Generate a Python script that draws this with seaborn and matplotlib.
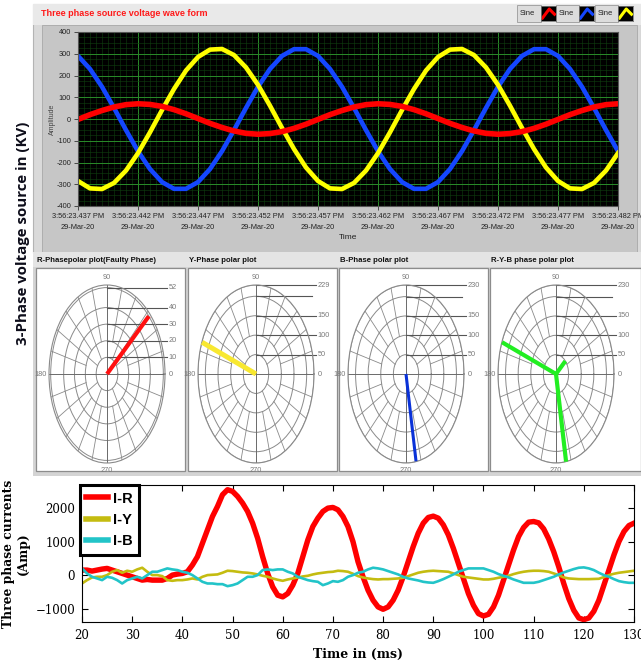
import numpy as np
import pandas as pd
import matplotlib
matplotlib.use('Agg')
import matplotlib.pyplot as plt
from matplotlib.patches import Rectangle
from matplotlib.lines import Line2D
from matplotlib.ticker import MultipleLocator
from matplotlib import font_manager
import seaborn as sns

# --- Figure geometry (pixels of the reference) ---
W, H = 641, 666

# --- Top chart: three phase source voltage, one sample per ms from 3:56:23.437 PM ---
T_OFFSET_MS = list(range(0, 46))
V_R = [-2, 20, 39, 55, 66, 70, 67, 58, 43, 24, 2, -20, -39, -55, -66, -70, -67, -58, -43, -24,
       -2, 20, 39, 55, 66, 70, 67, 58, 43, 24, 2, -20, -39, -55, -66, -70, -67, -58, -43, -24,
       -2, 20, 39, 55, 66, 70]
V_B = [290, 230, 148, 51, -51, -148, -230, -290, -321, -321, -290, -230, -148, -51, 51, 148, 230, 290, 321, 321,
       290, 230, 148, 51, -51, -148, -230, -290, -321, -321, -290, -230, -148, -51, 51, 148, 230, 290, 321, 321,
       290, 230, 148, 51, -51, -148]
V_Y = [-285, -319, -322, -294, -237, -157, -61, 41, 138, 223, 285, 319, 322, 294, 237, 157, 61, -41, -138, -223,
       -285, -319, -322, -294, -237, -157, -61, 41, 138, 223, 285, 319, 322, 294, 237, 157, 61, -41, -138, -223,
       -285, -319, -322, -294, -237, -157]
TOP_TICKS_MS = [0, 5, 10, 15, 20, 25, 30, 35, 40, 45]
TOP_TICK_LABELS = ['3:56:23.437 PM\n29-Mar-20', '3:56:23.442 PM\n29-Mar-20', '3:56:23.447 PM\n29-Mar-20',
                   '3:56:23.452 PM\n29-Mar-20', '3:56:23.457 PM\n29-Mar-20', '3:56:23.462 PM\n29-Mar-20',
                   '3:56:23.467 PM\n29-Mar-20', '3:56:23.472 PM\n29-Mar-20', '3:56:23.477 PM\n29-Mar-20',
                   '3:56:23.482 PM\n29-Mar-20']

# --- Polar plots: phasor magnitude and angle (deg) for R, Y, B ---
PHASES = ['R', 'Y', 'B']
PHASOR_MAG = [52, 228, 229]
PHASOR_ANG = [42, 159, 280]
RYB_MAG = [50, 229, 230]
POLAR_TITLES = ['R-Phasepolar plot(Faulty Phase)', 'Y-Phase polar plot', 'B-Phase polar plot',
                'R-Y-B phase polar plot']
RINGS_R = [10, 20, 30, 40, 52]
RING_LABELS_R = ['10', '20', '30', '40', '52']
RINGS_Y = [50, 100, 150, 200, 229]
RING_LABELS_Y = ['50', '100', '150', '', '229']
RINGS_B = [50, 100, 150, 200, 230]
RING_LABELS_B = ['50', '100', '150', '', '230']

# --- Bottom chart: three phase currents (Amp), one sample per ms ---
TIME_MS = list(range(20, 131))
I_R = [150, 150, 120, 150, 180, 200, 150, 100, 50, 0,
       -50, -100, -150, -130, -150, -150, -150, -100, 0, 30,
       50, 100, 300, 550, 950, 1350, 1750, 2050, 2400, 2550,
       2500, 2350, 2150, 1900, 1550, 1100, 550, 50, -350, -600,
       -650, -550, -300, 50, 550, 1050, 1450, 1700, 1900, 2000,
       2020, 1950, 1750, 1450, 1000, 400, -50, -450, -750, -950,
       -1020, -950, -750, -450, -50, 400, 850, 1250, 1550, 1720,
       1760, 1700, 1500, 1200, 800, 350, -100, -550, -900, -1150,
       -1220, -1170, -950, -600, -150, 300, 750, 1150, 1420, 1580,
       1600, 1560, 1380, 1080, 700, 250, -250, -700, -1050, -1280,
       -1330, -1280, -1080, -750, -300, 150, 600, 1000, 1300, 1480,
       1550]
I_Y = [-250, -150, -70, -50, -50, 0, 100, 150, 70, 130,
       100, 170, 220, 100, 0, 0, -30, -150, -170, -150,
       -150, -130, -100, -130, -50, 0, 10, 20, 70, 130,
       120, 100, 80, 70, 50, 20, -20, -50, -100, -140,
       -170, -130, -100, -70, -40, -20, 20, 50, 70, 90,
       100, 130, 120, 100, 40, -30, -70, -100, -120, -130,
       -120, -120, -110, -100, -80, -30, 20, 70, 100, 120,
       130, 120, 110, 100, 50, 0, -50, -70, -90, -110,
       -130, -130, -110, -80, -50, -20, 30, 70, 100, 120,
       130, 130, 120, 100, 50, 0, -70, -100, -110, -120,
       -120, -120, -115, -110, -60, 0, 40, 70, 90, 110,
       130]
I_B = [200, 50, -50, -100, -150, -50, -80, -150, -250, -150,
       -100, -50, -100, 0, 100, 100, 150, 200, 170, 150,
       100, 70, 0, -100, -200, -250, -250, -270, -270, -330,
       -300, -250, -150, -50, -50, 0, 150, 170, 150, 170,
       170, 100, 50, -50, -100, -150, -180, -200, -300, -250,
       -180, -200, -150, -50, 0, 70, 100, 170, 220, 200,
       170, 120, 70, 20, -50, -100, -130, -160, -200, -220,
       -230, -180, -120, -50, 20, 100, 150, 200, 200, 200,
       200, 150, 100, 30, -20, -70, -130, -180, -230, -230,
       -230, -200, -150, -100, -50, 20, 80, 130, 180, 220,
       230, 200, 150, 70, 0, -50, -120, -180, -210, -230,
       -230]

# --- Fonts ---
available = {f.name for f in font_manager.fontManager.ttflist}
NARROW = 'Liberation Sans Narrow' if 'Liberation Sans Narrow' in available else 'Liberation Sans'
SERIF = 'DejaVu Serif'


def rect(x0, y0, x1, y1):
    """Pixel box (top-left origin) -> figure fraction [l, b, w, h]."""
    return [x0 / W, 1 - y1 / H, (x1 - x0) / W, (y1 - y0) / H]


def panel(fig, x0, y0, x1, y1, fc, ec='none', lw=0.8, z=-2):
    l, b, w, h = rect(x0, y0, x1, y1)
    fig.patches.append(Rectangle((l, b), w, h, transform=fig.transFigure,
                                 facecolor=fc, edgecolor=ec, lw=lw, zorder=z))


fig = plt.figure(figsize=(W / 100, H / 100), dpi=100)
fig.patch.set_facecolor('white')

# big left label
fig.text(23 / W, 1 - 233 / H, '3-Phase voltage source in (KV)', rotation=90,
         fontsize=10.8, fontweight='bold', family='Open Sans', ha='center', va='center',
         color='#0d0d1a')

# ---------------- Top LabVIEW style waveform chart ----------------
panel(fig, 33, 4, 641, 253, '#dadada', ec='#b4b4b4', z=-3)
panel(fig, 33, 4, 641, 25, '#e9e9e9', z=-2)
panel(fig, 42, 25, 637, 252, '#c6c6c6', ec='#a8a8a8', lw=0.6, z=-2)
fig.text(41 / W, 1 - 14 / H, 'Three phase source voltage wave form', color='#ff1a1a',
         fontsize=6.5, fontweight='bold', family=NARROW, va='center')

# plot legend (label then swatch)
legend_items = [(519, 541, '#ff0000'), (558, 579, '#1446ff'), (597, 618, '#ffff00')]
for lx, ix, col in legend_items:
    panel(fig, lx - 2, 5, ix, 22, '#dcdcdc', ec='#9a9a9a', lw=0.6, z=-1)
    fig.text((lx + 1) / W, 1 - 13.5 / H, 'Sine', fontsize=5.5, family=NARROW,
             va='center', color='#222222')
    iax = fig.add_axes(rect(ix, 6, ix + 15, 21))
    iax.set_facecolor('black')
    iax.plot([0.1, 0.55, 0.9], [0.2, 0.8, 0.45], color=col, lw=2.2)
    iax.set_xlim(0, 1)
    iax.set_ylim(0, 1)
    iax.set_xticks([])
    iax.set_yticks([])
    for s in iax.spines.values():
        s.set_color('#777777')
        s.set_linewidth(0.6)

ax = fig.add_axes(rect(78, 32, 618, 206))
ax.set_facecolor('black')
df_v = pd.concat([
    pd.DataFrame({'t': T_OFFSET_MS, 'v': V_B, 'phase': 'B'}),
    pd.DataFrame({'t': T_OFFSET_MS, 'v': V_Y, 'phase': 'Y'}),
    pd.DataFrame({'t': T_OFFSET_MS, 'v': V_R, 'phase': 'R'}),
])
sns.lineplot(data=df_v, x='t', y='v', hue='phase', hue_order=['B', 'Y', 'R'],
             palette={'R': '#ff0000', 'B': '#1446ff', 'Y': '#ffff00'},
             size='phase', sizes={'R': 4.0, 'B': 3.3, 'Y': 3.3},
             legend=False, estimator=None, ax=ax)
ax.set_xlim(0, 45)
ax.set_ylim(-400, 400)
ax.set_xticks(TOP_TICKS_MS)
ax.set_xticklabels(TOP_TICK_LABELS, fontsize=5.3, family=NARROW, color='#222222', linespacing=1.9)
ax.set_yticks(range(-400, 401, 100))
ax.set_yticklabels([str(v) for v in range(-400, 401, 100)], fontsize=5.3, family=NARROW, color='#222222')
ax.xaxis.set_minor_locator(MultipleLocator(0.5))
ax.yaxis.set_minor_locator(MultipleLocator(25))
ax.set_axisbelow(True)
ax.grid(which='major', color='#2a8c2a', lw=0.7)
ax.grid(which='minor', color='#0f400f', lw=0.4)
ax.tick_params(which='minor', length=0)
ax.tick_params(which='major', length=3, width=0.6, color='#333333', pad=2)
for s in ax.spines.values():
    s.set_color('#555555')
ax.set_ylabel('Amplitude', fontsize=5, color='#444444', family=NARROW, labelpad=0)
ax.set_xlabel('Time', fontsize=6, family=NARROW, color='#222222', labelpad=2)

# ---------------- Polar phasor panels ----------------
panel(fig, 33, 252, 641, 476, '#d4d4d4', z=-3)
panel(fig, 33, 252, 641, 267, '#e4e4e4', z=-2)
PANEL_X = [(36, 185), (188, 337), (339, 488), (490, 641)]
CENTER_X = [107, 256, 406, 556]
phasor_sets = [
    [(PHASOR_MAG[0], PHASOR_ANG[0], '#ff1010', 3.0)],
    [(PHASOR_MAG[1], PHASOR_ANG[1], '#f8e830', 3.6)],
    [(PHASOR_MAG[2], PHASOR_ANG[2], '#0a32d8', 2.2)],
    [(m, a, '#22ee22', 3.0) for m, a in zip(RYB_MAG, PHASOR_ANG)],
]
ring_sets = [(RINGS_R, RING_LABELS_R), (RINGS_Y, RING_LABELS_Y),
             (RINGS_B, RING_LABELS_B), (RINGS_B, RING_LABELS_B)]

for i in range(4):
    x0, x1 = PANEL_X[i]
    panel(fig, x0, 268, x1, 471, 'white', ec='#8c8c8c', lw=0.9, z=-1)
    fig.text((x0 + 1) / W, 1 - 260 / H, POLAR_TITLES[i], fontsize=5.6, fontweight='bold',
             family=NARROW, va='center', color='#111111')
    rings, rlabels = ring_sets[i]
    rmax = rings[-1]
    cx = CENTER_X[i]
    pax = fig.add_axes(rect(cx - 58, 374 - 89, cx + 58, 374 + 89), projection='polar')
    pax.set_aspect('auto')
    pax.set_facecolor('white')
    top = rmax * 1.03 if i == 0 else rmax
    pax.set_ylim(0, top)
    pax.set_yticks(rings)
    pax.set_yticklabels([])
    pax.set_xticks([])
    pax.yaxis.grid(True, color='#8a8a8a', lw=0.7)
    pax.spines['polar'].set_color('#8a8a8a')
    pax.spines['polar'].set_linewidth(0.8)
    # spokes of the LabVIEW polar grid
    for th in range(30, 360, 30):
        if th % 90:
            pax.plot([np.deg2rad(th)] * 2, [rings[0], top], color='#8a8a8a', lw=0.6)
    for th in range(15, 360, 30):
        pax.plot([np.deg2rad(th)] * 2, [rings[1], top], color='#8a8a8a', lw=0.6)
    for th in (0, 90, 180, 270):
        pax.plot([np.deg2rad(th)] * 2, [0, top], color='#6a6a6a', lw=0.7)
    # radial scale with leader lines on the right
    for r, lab in zip(rings, rlabels):
        yy = 0.5 + 0.5 * r / top
        pax.plot([0.5, 1.02 if lab else 0.98], [yy, yy], transform=pax.transAxes,
                 color='#555555', lw=0.8, clip_on=False)
        if lab:
            pax.text(1.03, yy, lab, transform=pax.transAxes, fontsize=5.3, family=NARROW,
                     color='#7a7a7a', va='center', ha='left')
    pax.text(1.03, 0.5, '0', transform=pax.transAxes, fontsize=5.3, family=NARROW,
             color='#7a7a7a', va='center', ha='left')
    pax.text(-0.02, 0.5, '180', transform=pax.transAxes, fontsize=5.3, family=NARROW,
             color='#7a7a7a', va='center', ha='right')
    pax.text(0.5, 1.025, '90', transform=pax.transAxes, fontsize=5.3, family=NARROW,
             color='#7a7a7a', va='bottom', ha='center')
    pax.text(0.5, -0.025, '270', transform=pax.transAxes, fontsize=5.3, family=NARROW,
             color='#7a7a7a', va='top', ha='center')
    for mag, ang, col, lw in phasor_sets[i]:
        pax.plot([np.deg2rad(ang)] * 2, [0, mag], color=col, lw=lw,
                 solid_capstyle='butt', zorder=5, clip_on=False)

# ---------------- Bottom chart: three phase currents ----------------
bax = fig.add_axes(rect(82, 485, 634, 622))
df_i = pd.concat([
    pd.DataFrame({'t': TIME_MS, 'i': I_R, 'phase': 'I-R'}),
    pd.DataFrame({'t': TIME_MS, 'i': I_Y, 'phase': 'I-Y'}),
    pd.DataFrame({'t': TIME_MS, 'i': I_B, 'phase': 'I-B'}),
])
current_colors = {'I-R': '#ff0000', 'I-Y': '#c4bc10', 'I-B': '#22c4c8'}
sns.lineplot(data=df_i, x='t', y='i', hue='phase', hue_order=['I-R', 'I-Y', 'I-B'],
             size='phase', sizes={'I-R': 3.9, 'I-Y': 1.9, 'I-B': 1.9},
             palette=current_colors, legend=False, estimator=None, ax=bax)
bax.set_xlim(20, 130)
bax.set_ylim(-1400, 2690)
bax.set_xticks(range(20, 131, 10))
bax.set_yticks([-1000, 0, 1000, 2000])
bax.tick_params(direction='in', top=True, right=True, length=4, width=0.8,
                labelsize=8.5, pad=5)
for lab in bax.get_xticklabels() + bax.get_yticklabels():
    lab.set_family(SERIF)
for s in bax.spines.values():
    s.set_linewidth(0.8)
bax.set_xlabel('Time in (ms)', fontsize=9, fontweight='bold', family=SERIF, labelpad=4)
bax.set_ylabel('Three phase currents\n(Amp)', fontsize=8.8, fontweight='bold', family=SERIF,
               labelpad=4, linespacing=1.15)
handles = [Line2D([], [], color=current_colors[k], lw=4.0) for k in ['I-R', 'I-Y', 'I-B']]
leg = bax.legend(handles, ['I-R', 'I-Y', 'I-B'], loc='upper left', bbox_to_anchor=(-0.004, 1.0),
                 borderaxespad=0, frameon=True, fancybox=False, edgecolor='black', framealpha=1,
                 handlelength=1.5, handletextpad=0.3, labelspacing=0.5, borderpad=0.45,
                 prop={'family': NARROW, 'weight': 'bold', 'size': 10.5})
leg.get_frame().set_linewidth(2.2)

fig.savefig('out.png', dpi=100)
